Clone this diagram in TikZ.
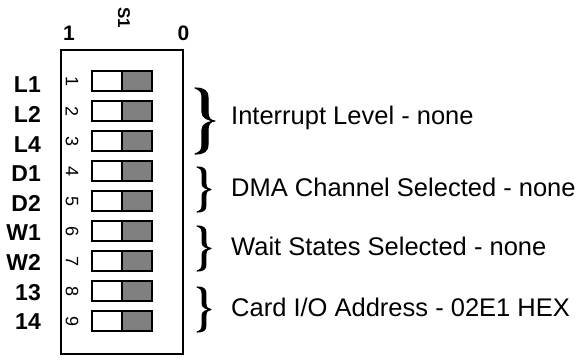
\documentclass[tikz,border=0pt]{standalone}
\usepackage{fontspec}
\setmainfont{Liberation Sans}
\definecolor{swgray}{RGB}{128,128,128}
\newcommand\cbBrace[5]{%
 \pgfmathsetmacro\cbx{#1}\pgfmathsetmacro\cbt{#2}\pgfmathsetmacro\cbb{#3}%
 \pgfmathsetmacro\cbw{#4}\pgfmathsetmacro\cbs{#5}%
 \pgfmathsetmacro\cbh{\cbb-\cbt}%
 \pgfmathsetmacro\cbxm{\cbx+0.5*\cbw}%
 \pgfmathsetmacro\cbxo{\cbxm+\cbs/2}\pgfmathsetmacro\cbxi{\cbxm-\cbs/2}%
 \pgfmathsetmacro\cbxt{\cbx+\cbw}%
 \pgfmathsetmacro\cbym{\cbt+0.5*\cbh}%
 \filldraw[line width=1.1pt, line join=round]
  (\cbx,\cbt) .. controls ({\cbx+0.45*\cbw},\cbt) and (\cbxo,{\cbt+0.04*\cbh}) .. (\cbxo,{\cbt+0.15*\cbh})
  -- (\cbxo,{\cbt+0.37*\cbh})
  .. controls (\cbxo,{\cbt+0.46*\cbh}) and ({\cbx+0.8*\cbw},\cbym) .. (\cbxt,\cbym)
  .. controls ({\cbx+0.8*\cbw},\cbym) and (\cbxo,{\cbt+0.54*\cbh}) .. (\cbxo,{\cbt+0.63*\cbh})
  -- (\cbxo,{\cbt+0.85*\cbh})
  .. controls (\cbxo,{\cbt+0.96*\cbh}) and ({\cbx+0.45*\cbw},\cbb) .. (\cbx,\cbb)
  .. controls ({\cbx+0.3*\cbw},{\cbb-0.03*\cbh}) and (\cbxi,{\cbt+0.93*\cbh}) .. (\cbxi,{\cbt+0.85*\cbh})
  -- (\cbxi,{\cbt+0.63*\cbh})
  .. controls (\cbxi,{\cbt+0.54*\cbh}) and ({\cbx+0.7*\cbw},{\cbym+0.01*\cbh}) .. (\cbxt,\cbym)
  .. controls ({\cbx+0.7*\cbw},{\cbym-0.01*\cbh}) and (\cbxi,{\cbt+0.46*\cbh}) .. (\cbxi,{\cbt+0.37*\cbh})
  -- (\cbxi,{\cbt+0.15*\cbh})
  .. controls (\cbxi,{\cbt+0.07*\cbh}) and ({\cbx+0.3*\cbw},{\cbt+0.03*\cbh}) .. (\cbx,\cbt) -- cycle;
}
\begin{document}
\begin{tikzpicture}[x=1pt,y=-1pt,
  lbl/.style={font=\fontsize{23}{26}\selectfont\bfseries, anchor=east, inner sep=0pt},
  toplbl/.style={font=\fontsize{21}{24}\selectfont\bfseries, inner sep=0pt},
  num/.style={font=\fontsize{18}{20}\selectfont, rotate=-90, inner sep=0pt},
  desc/.style={font=\fontsize{25.5}{30}\selectfont, anchor=base west, inner sep=0pt},
  sw/.style={draw=black, line width=1.4pt, minimum width=30pt, minimum height=20pt, inner sep=0pt},
]
\useasboundingbox (0,0) rectangle (577,360);
\node[draw, line width=1.5pt, minimum width=122pt, minimum height=304pt, inner sep=0pt] (box) at (122,202) {};
\foreach \i/\t in {1/L1,2/L2,3/L4,4/D1,5/D2,6/W1,7/W2,8/13,9/14} {
  \pgfmathsetmacro\yy{81+30*(\i-1)}
  \pgfmathsetmacro\ly{85+29.6*(\i-1)}
  \node[sw, fill=white] (w\i) at (107,\yy) {};
  \node[sw, fill=swgray] (g\i) at (137,\yy) {};
  \node[num] (n\i) at (72,\yy) {\i};
  \node[lbl] (l\i) at (41,\ly) {\t};
}
\node[toplbl] (c1) at (69,33) {1};
\node[toplbl] (c0) at (183.5,33) {0};
\node[toplbl, font=\fontsize{17}{20}\selectfont\bfseries, rotate=-90] (s1) at (124,18) {S1};
\cbBrace{195}{88}{154}{20}{6}
\cbBrace{197}{167}{212}{14}{3.8}
\cbBrace{197}{226}{271}{14}{3.8}
\cbBrace{197}{287}{332}{14}{3.8}
\node[desc] (t1) at (231,124) {Interrupt Level - none};
\node[desc] (t2) at (231,196) {DMA Channel Selected - none};
\node[desc] (t3) at (231,255) {Wait States Selected - none};
\node[desc] (t4) at (231,316) {Card I/O Address - 02E1 HEX};
\end{tikzpicture}
\end{document}
